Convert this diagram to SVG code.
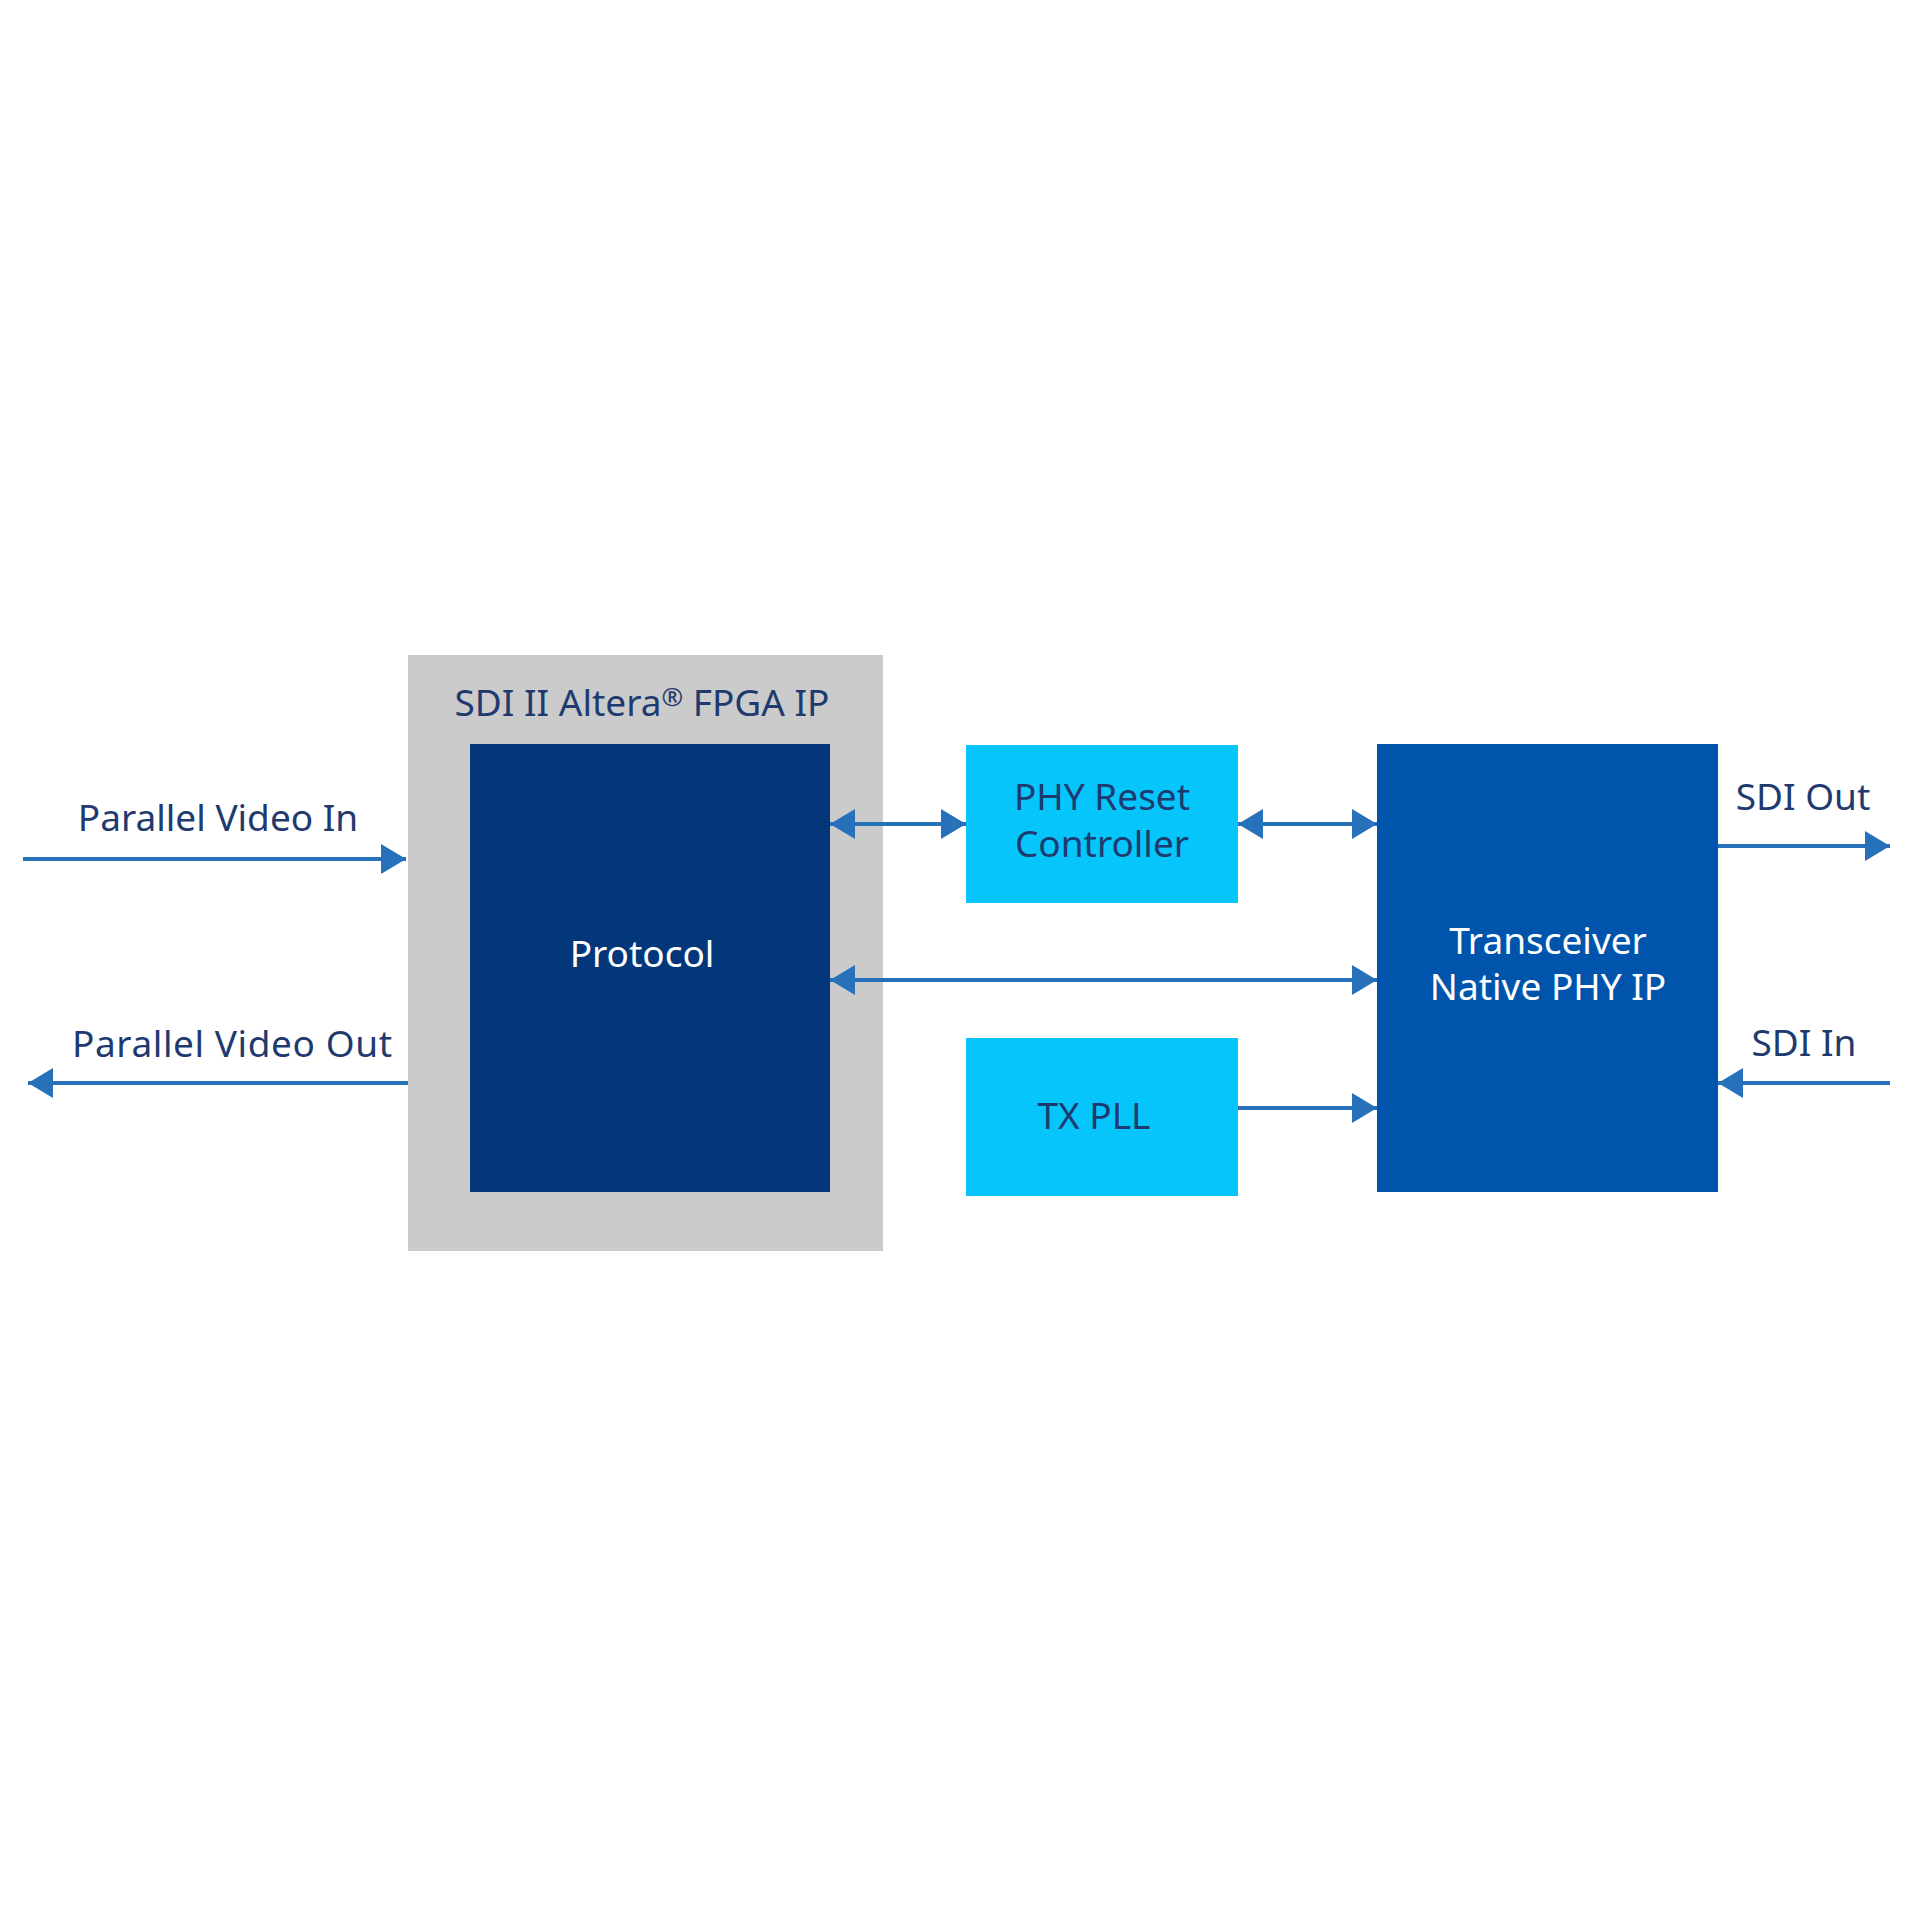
<svg xmlns="http://www.w3.org/2000/svg" width="1920" height="1920" viewBox="0 0 1920 1920">
<defs>
<marker id="ah" viewBox="0 0 25 30" refX="25" refY="15" markerWidth="25" markerHeight="30" markerUnits="userSpaceOnUse" orient="auto-start-reverse">
<path d="M0,0 L25,15 L0,30 Z" fill="#2770ba"/>
</marker>
<style>
.lbl{font-family:"Noto Sans","Liberation Sans",sans-serif;font-size:37px;fill:#1e3a6e;text-anchor:middle}
.wt{fill:#ffffff}
.cn{stroke:#2770ba;stroke-width:4;fill:none}
</style>
</defs>
<rect width="1920" height="1920" fill="#ffffff"/>
<g id="sdi-ip">
<rect x="408" y="655" width="475" height="596" fill="#cbcbcb"/>
<text class="lbl" x="642" y="716">SDI II Altera<tspan font-size="26" dy="-10">®</tspan><tspan dy="10"> FPGA IP</tspan></text>
</g>
<g id="protocol">
<rect x="470" y="744" width="360" height="448" fill="#03377a"/>
<text class="lbl wt" x="642" y="967">Protocol</text>
</g>
<g id="phy-reset">
<rect x="966" y="745" width="272" height="158" fill="#05c5fb"/>
<text class="lbl" x="1102" y="810">PHY Reset</text>
<text class="lbl" x="1102" y="857">Controller</text>
</g>
<g id="tx-pll">
<rect x="966" y="1038" width="272" height="158" fill="#05c5fb"/>
<text class="lbl" x="1094" y="1129">TX PLL</text>
</g>
<g id="transceiver">
<rect x="1377" y="744" width="341" height="448" fill="#0054ac"/>
<text class="lbl wt" x="1548" y="954">Transceiver</text>
<text class="lbl wt" x="1548" y="1000">Native PHY IP</text>
</g>
<g id="labels">
<text class="lbl" x="218" y="831">Parallel Video In</text>
<text class="lbl" x="232" y="1057" textLength="320">Parallel Video Out</text>
<text class="lbl" x="1803" y="810">SDI Out</text>
<text class="lbl" x="1804" y="1056">SDI In</text>
</g>
<g id="connectors">
<line class="cn" x1="23" y1="859" x2="406" y2="859" marker-end="url(#ah)"/>
<line class="cn" x1="408" y1="1083" x2="28" y2="1083" marker-end="url(#ah)"/>
<line class="cn" x1="830" y1="824" x2="966" y2="824" marker-start="url(#ah)" marker-end="url(#ah)"/>
<line class="cn" x1="1238" y1="824" x2="1377" y2="824" marker-start="url(#ah)" marker-end="url(#ah)"/>
<line class="cn" x1="830" y1="980" x2="1377" y2="980" marker-start="url(#ah)" marker-end="url(#ah)"/>
<line class="cn" x1="1238" y1="1108" x2="1377" y2="1108" marker-end="url(#ah)"/>
<line class="cn" x1="1718" y1="846" x2="1890" y2="846" marker-end="url(#ah)"/>
<line class="cn" x1="1890" y1="1083" x2="1718" y2="1083" marker-end="url(#ah)"/>
</g>
</svg>
